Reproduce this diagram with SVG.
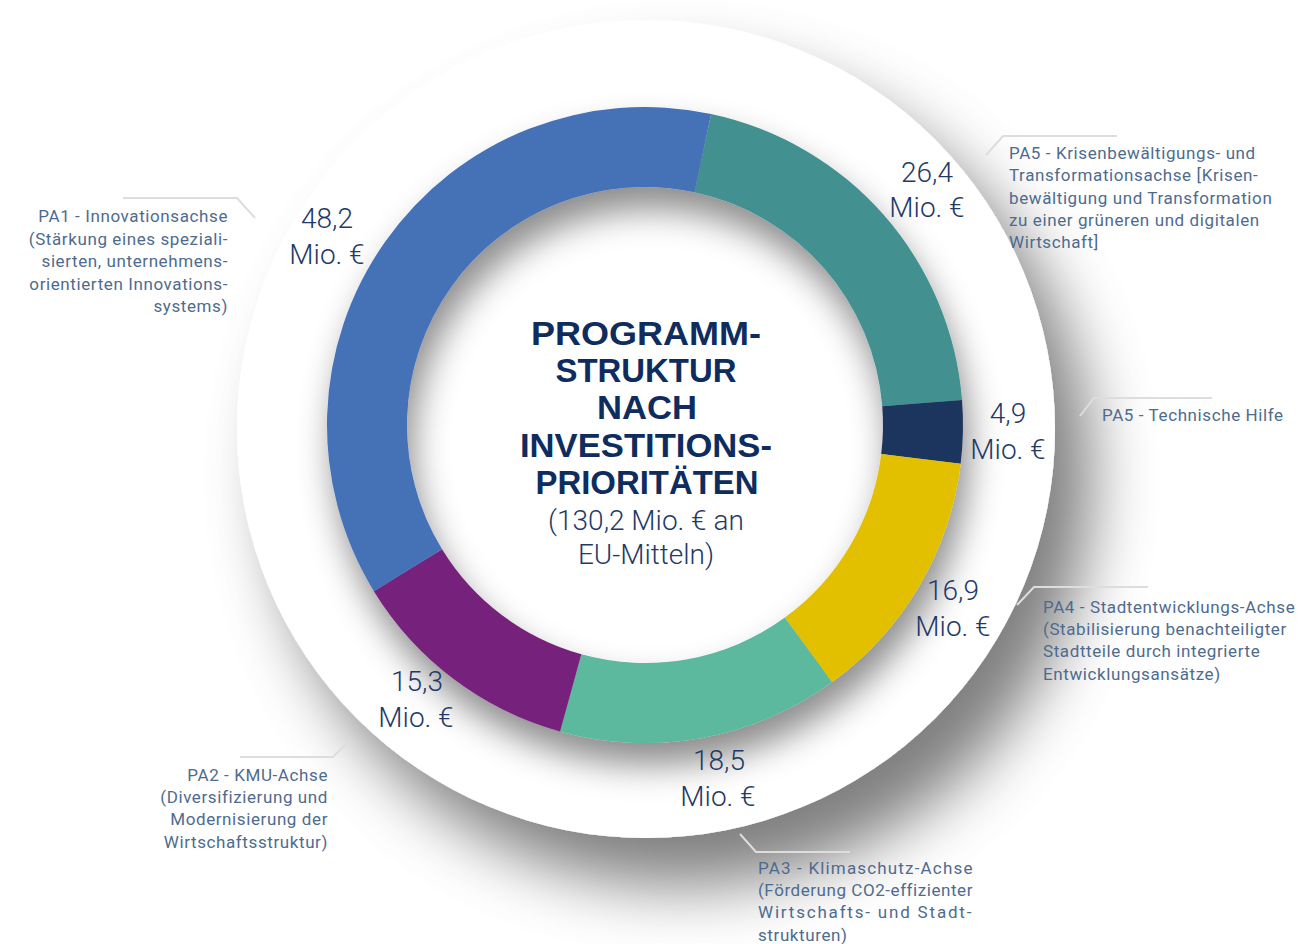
<svg xmlns="http://www.w3.org/2000/svg" width="1307" height="944" viewBox="0 0 1307 944">
  <defs>
    <filter id="diskShadow" x="-40%" y="-40%" width="180%" height="180%">
      <feGaussianBlur in="SourceAlpha" stdDeviation="32"/>
      <feOffset dx="36" dy="48" result="b"/>
      <feFlood flood-color="#000" flood-opacity="0.5"/>
      <feComposite in2="b" operator="in"/>
      <feMerge><feMergeNode/><feMergeNode in="SourceGraphic"/></feMerge>
    </filter>
    <filter id="ringShadow" x="-20%" y="-20%" width="140%" height="140%">
      <feGaussianBlur in="SourceAlpha" stdDeviation="17"/>
      <feOffset dx="6" dy="22" result="b"/>
      <feFlood flood-color="#000" flood-opacity="0.45"/>
      <feComposite in2="b" operator="in"/>
      <feMerge><feMergeNode/><feMergeNode in="SourceGraphic"/></feMerge>
    </filter>
  </defs>
  <style>
    .val { font-family: Roboto, "Liberation Sans", sans-serif; font-weight: 300; font-size: 28px; fill: #1f3a68; text-anchor: middle; }
    .cap { font-family: Roboto, "Liberation Sans", sans-serif; font-weight: 400; font-size: 17px; fill: #4e6b8f; letter-spacing: 0.6px; }
    .end { text-anchor: end; }
    .title { font-family: "Liberation Sans", Roboto, sans-serif; font-weight: 700; font-size: 33px; fill: #0e2d5e; text-anchor: middle; }
    .sub { font-family: Roboto, "Liberation Sans", sans-serif; font-weight: 300; font-size: 28px; fill: #1f3a68; text-anchor: middle; }
    .lead { fill: none; stroke: #dddddd; stroke-width: 2; }
  </style>
  <rect width="1307" height="944" fill="#ffffff"/>
  <circle id="outer-disk" cx="646" cy="429" r="409" fill="#ffffff" filter="url(#diskShadow)"/>

  <g id="ring" filter="url(#ringShadow)">
    <path id="seg-pa5" d="M711.12,113.95 A318,318 0 0 1 962.02,400.05 L882.27,406.33 A238,238 0 0 0 694.48,192.2 Z" fill="#429190"/>
    <path id="seg-pa5th" d="M962.02,400.05 A318,318 0 0 1 960.63,463.75 L881.23,454.01 A238,238 0 0 0 882.27,406.33 Z" fill="#1f345e"/>
    <path id="seg-pa4" d="M960.63,463.75 A318,318 0 0 1 831.92,682.27 L784.89,617.55 A238,238 0 0 0 881.23,454.01 Z" fill="#e2c000"/>
    <path id="seg-pa3" d="M831.92,682.27 A318,318 0 0 1 560.02,731.43 L581.4,654.34 A238,238 0 0 0 784.89,617.55 Z" fill="#5bb99d"/>
    <path id="seg-pa2" d="M560.02,731.43 A318,318 0 0 1 373.86,591.16 L442.07,549.36 A238,238 0 0 0 581.4,654.34 Z" fill="#76217c"/>
    <path id="seg-pa1" d="M373.86,591.16 A318,318 0 0 1 711.12,113.95 L694.48,192.2 A238,238 0 0 0 442.07,549.36 Z" fill="#4471b7"/>
  </g>

  <g id="connectors">
    <path class="lead" d="M123,198 H237 L255,218"/>
    <path class="lead" d="M986,155 L1003,136 H1117"/>
    <path class="lead" d="M1080,416 L1094,398 H1212"/>
    <path class="lead" d="M1017,605 L1034,587 H1148"/>
    <path class="lead" d="M240,757 H333 L350,740"/>
    <path class="lead" d="M740,834 L756,852 H850"/>
  </g>

  <g id="center-title">
    <text class="title" x="646" y="345" textLength="230" lengthAdjust="spacingAndGlyphs">PROGRAMM-</text>
    <text class="title" x="646" y="382" textLength="181" lengthAdjust="spacingAndGlyphs">STRUKTUR</text>
    <text class="title" x="647" y="419" textLength="100" lengthAdjust="spacingAndGlyphs">NACH</text>
    <text class="title" x="646" y="457" textLength="252" lengthAdjust="spacingAndGlyphs">INVESTITIONS-</text>
    <text class="title" x="647" y="494" textLength="223" lengthAdjust="spacingAndGlyphs">PRIORITÄTEN</text>
    <text class="sub" x="646" y="530">(130,2 Mio. € an</text>
    <text class="sub" x="646" y="564">EU-Mitteln)</text>
  </g>

  <g id="node-pa1">
    <text class="val" x="327" y="228">48,2</text>
    <text class="val" x="327" y="264">Mio. €</text>
    <text class="cap end" x="228" y="222">PA1 - Innovationsachse</text>
    <text class="cap end" x="228" y="245">(Stärkung eines speziali-</text>
    <text class="cap end" x="228" y="267">sierten, unternehmens-</text>
    <text class="cap end" x="228" y="290">orientierten Innovations-</text>
    <text class="cap end" x="228" y="312">systems)</text>
  </g>

  <g id="node-pa5">
    <text class="val" x="927" y="182">26,4</text>
    <text class="val" x="927" y="217">Mio. €</text>
    <text class="cap" x="1009" y="159">PA5 - Krisenbewältigungs- und</text>
    <text class="cap" x="1009" y="181">Transformationsachse [Krisen-</text>
    <text class="cap" x="1009" y="204">bewältigung und Transformation</text>
    <text class="cap" x="1009" y="226">zu einer grüneren und digitalen</text>
    <text class="cap" x="1009" y="248">Wirtschaft]</text>
  </g>

  <g id="node-pa5th">
    <text class="val" x="1008" y="423">4,9</text>
    <text class="val" x="1008" y="459">Mio. €</text>
    <text class="cap" x="1102" y="421">PA5 - Technische Hilfe</text>
  </g>

  <g id="node-pa4">
    <text class="val" x="953" y="600">16,9</text>
    <text class="val" x="953" y="636">Mio. €</text>
    <text class="cap" x="1043" y="613">PA4 - Stadtentwicklungs-Achse</text>
    <text class="cap" x="1043" y="635">(Stabilisierung benachteiligter</text>
    <text class="cap" x="1043" y="657">Stadtteile durch integrierte</text>
    <text class="cap" x="1043" y="680">Entwicklungsansätze)</text>
  </g>

  <g id="node-pa3">
    <text class="val" x="719" y="770">18,5</text>
    <text class="val" x="718" y="806">Mio. €</text>
    <text class="cap" x="758" y="874" textLength="215" lengthAdjust="spacing">PA3 - Klimaschutz-Achse</text>
    <text class="cap" x="758" y="896" textLength="215" lengthAdjust="spacing">(Förderung CO2-effizienter</text>
    <text class="cap" x="758" y="918" textLength="214" lengthAdjust="spacing">Wirtschafts- und Stadt-</text>
    <text class="cap" x="758" y="941">strukturen)</text>
  </g>

  <g id="node-pa2">
    <text class="val" x="417" y="691">15,3</text>
    <text class="val" x="416" y="727">Mio. €</text>
    <text class="cap end" x="328" y="781">PA2 - KMU-Achse</text>
    <text class="cap end" x="328" y="803">(Diversifizierung und</text>
    <text class="cap end" x="328" y="825">Modernisierung der</text>
    <text class="cap end" x="328" y="848">Wirtschaftsstruktur)</text>
  </g>
</svg>
